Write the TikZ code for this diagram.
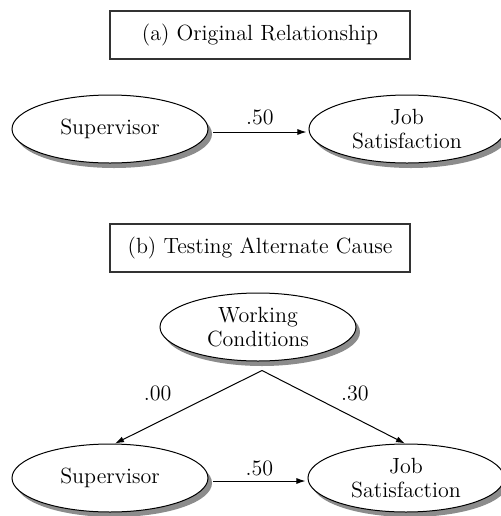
\documentclass[tikz,border=0pt]{standalone}
\usetikzlibrary{shapes.geometric,shadows,arrows.meta}
\tikzset{
  latent/.style={ellipse,draw,fill=white,line width=0.5pt,
    minimum width=98pt,minimum height=34pt,inner sep=0pt,align=center,
    drop shadow={shadow xshift=2pt,shadow yshift=-2.5pt,fill=black!45,opacity=1}},
  caption/.style={draw=black!80,line width=0.7pt,minimum width=150pt,minimum height=24pt},
  effect/.style={-{Latex[length=4.5pt,width=3pt]},line width=0.5pt}
}
\begin{document}
\begin{tikzpicture}[x=0.5pt,y=-0.5pt,font=\fontsize{11}{12}\selectfont]
   \useasboundingbox (0,0) rectangle (500,516);
   \node[caption] (capa) at (260,35) {(a) Original Relationship};
   \node[caption] (capb) at (260,248) {(b) Testing Alternate Cause};
   \node[latent] (supa) at (110,129) {Supervisor};
   \node[latent] (joba) at (407,129) {Job\\Satisfaction};
   \node[latent] (work) at (258,327) {Working\\Conditions};
   \node[latent] (supb) at (110,478) {Supervisor};
   \node[latent] (jobb) at (406,478) {Job\\Satisfaction};
   \coordinate (fork) at ([xshift=2pt,yshift=-4.5pt]work.south);
   \draw[effect] ([xshift=2.5pt,yshift=-1.5pt]supa.east) -- node[above] {.50} ([xshift=-1pt,yshift=-1.5pt]joba.west);
   \draw[effect] ([xshift=2.5pt,yshift=-1.5pt]supb.east) -- node[above=-1pt] {.50} ([xshift=-1pt,yshift=-1.5pt]jobb.west);
   \draw[effect] (fork) -- node[pos=0.71,above=7pt] {.00} ([xshift=2.5pt]supb.north);
   \draw[effect] (fork) -- node[pos=0.65,above=5pt] {.30} ([xshift=-0.5pt]jobb.north);
\end{tikzpicture}
\end{document}
